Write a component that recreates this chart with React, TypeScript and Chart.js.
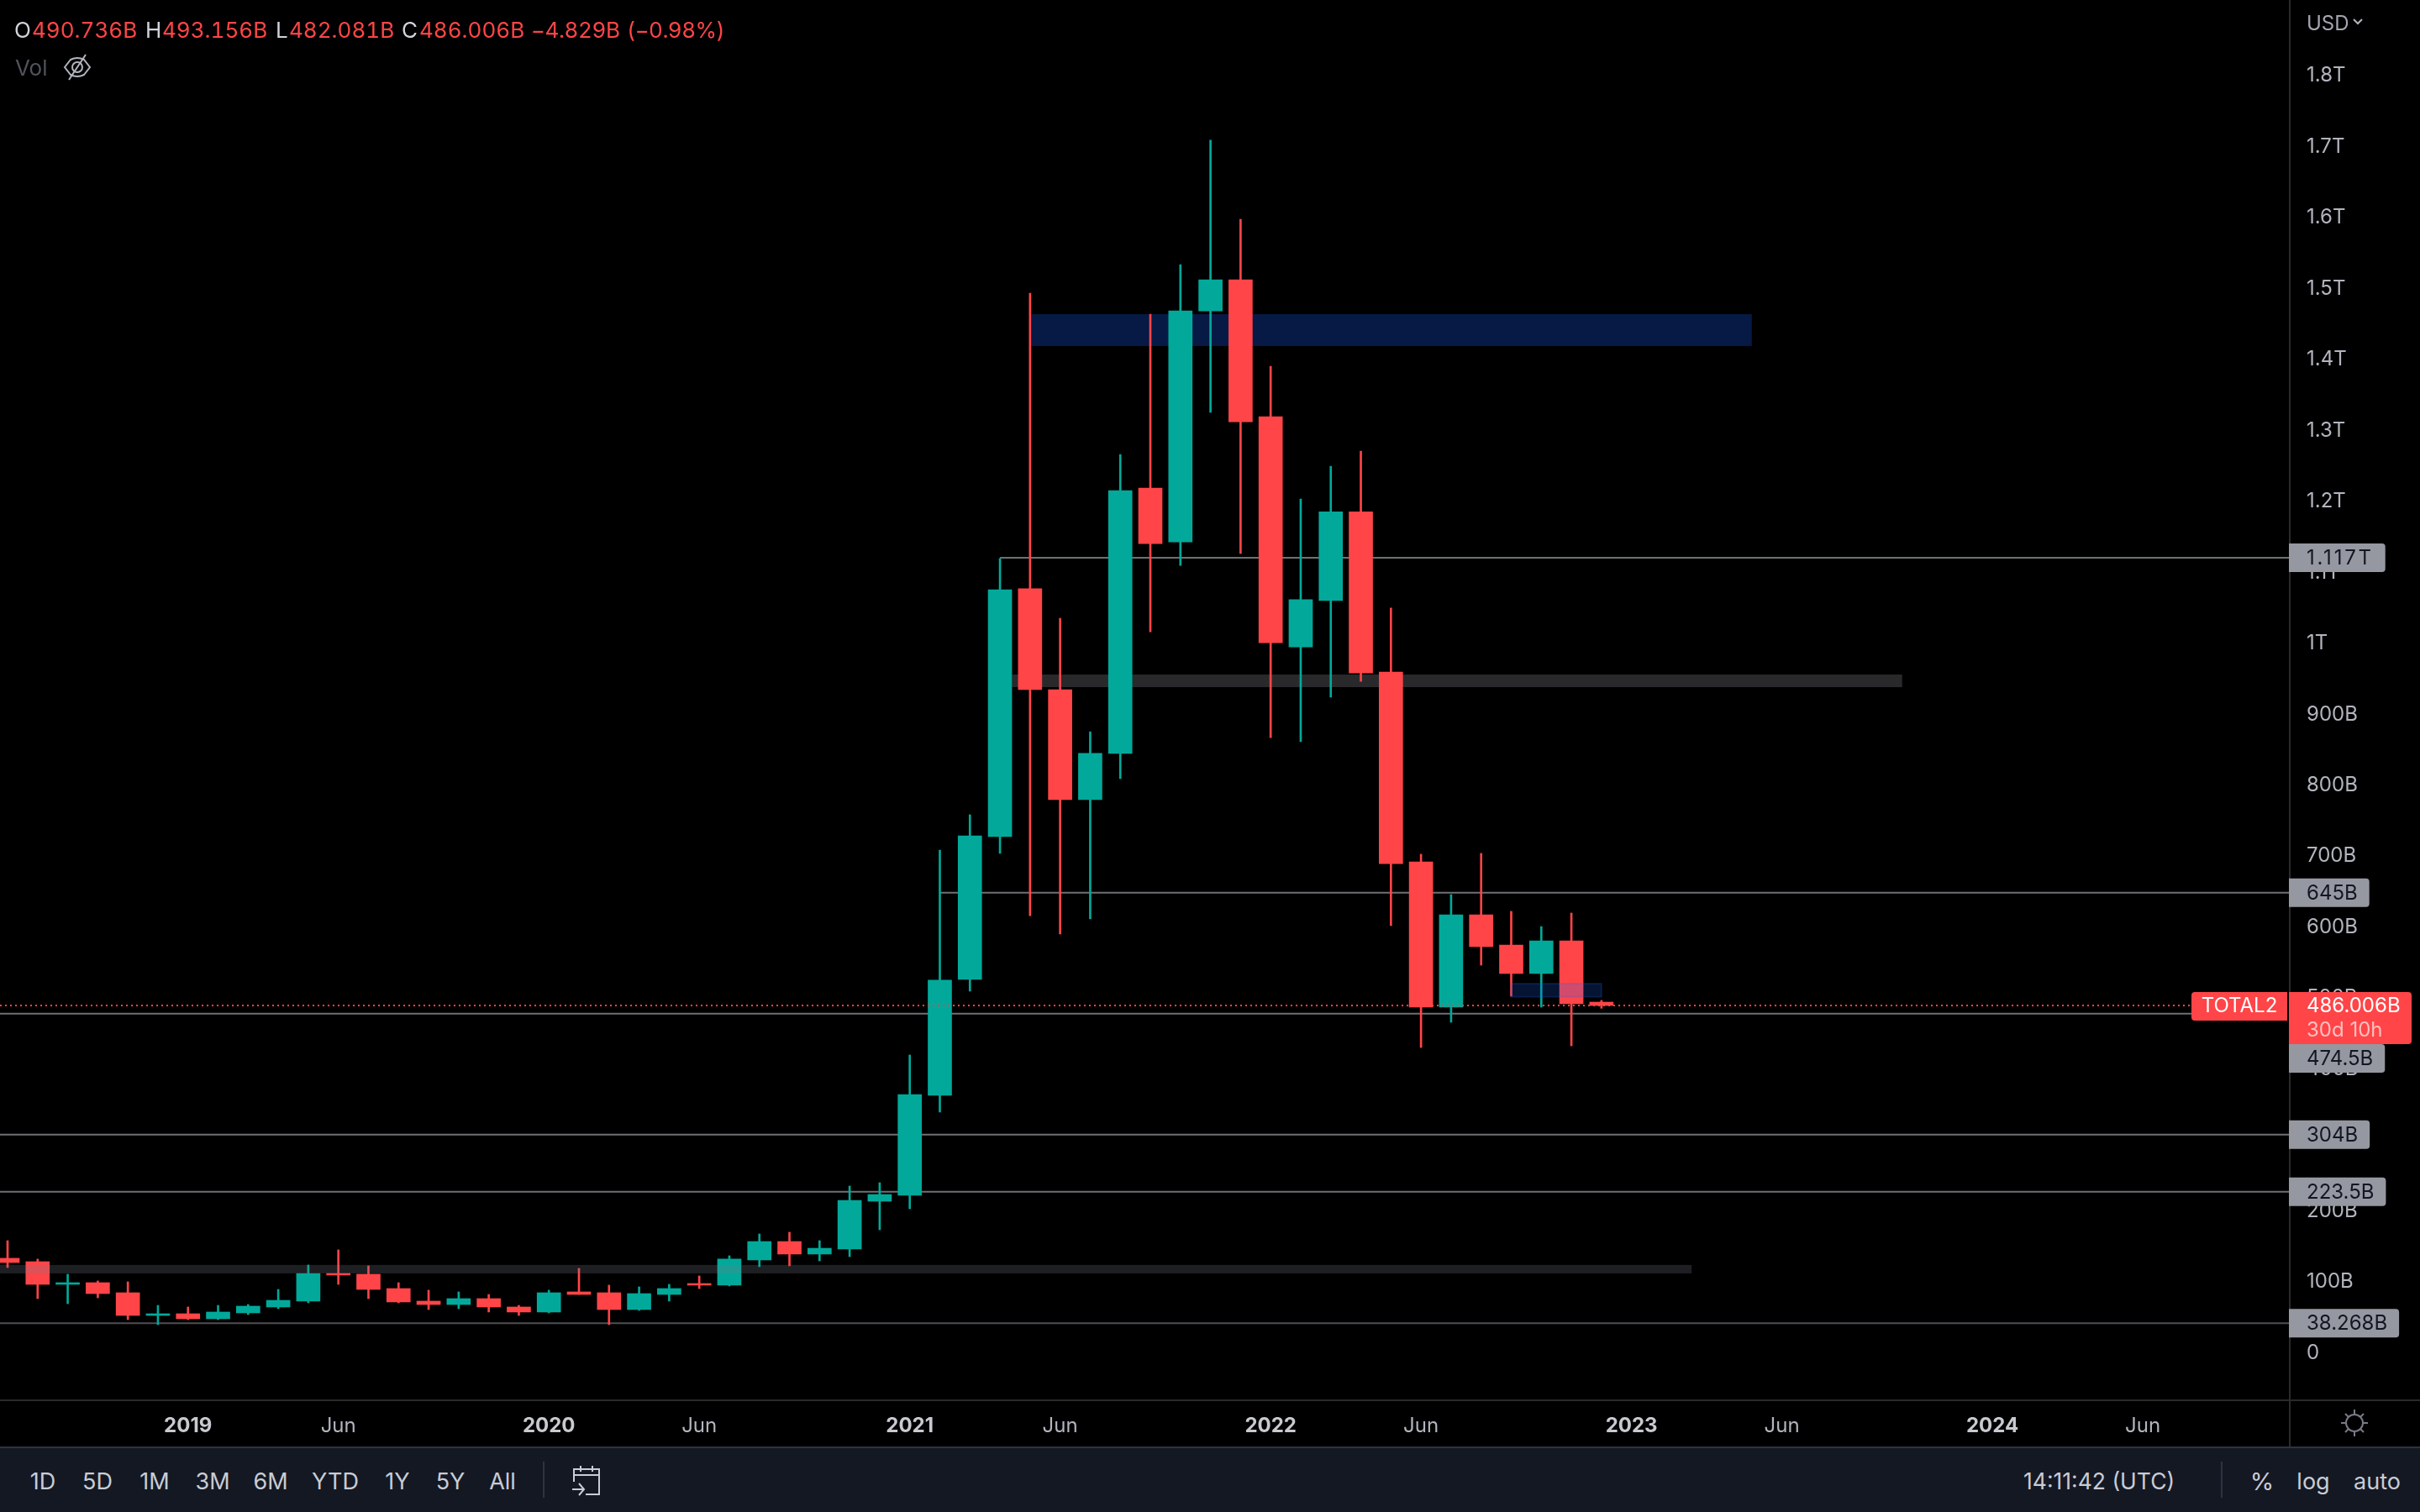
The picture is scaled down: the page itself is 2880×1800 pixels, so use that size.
import React, { useEffect, useRef } from "react";
import { Chart, registerables } from "chart.js";

Chart.register(...registerables);

// Monthly candles, Jul 2018 .. Dec 2022, values in billions of USD
const opens = [129.7,124.9,92.9,95.3,81.1,49.1,51.5,44.4,52.7,61,69.3,108.3,107.2,87,69.3,64.5,72.8,61,53.9,82.3,81.1,57.4,78.7,94.1,91.8,127.3,153.3,135.6,142.6,210.1,218.4,359.3,522.9,724,1073.4,931.2,776.2,841.4,1215.4,1139.3,1465,1509,1316,991.4,1056.7,1181.9,956,688.5,483.7,613.9,571.3,531,577.2,490.736];
const highs = [154.5,128.5,107.2,97.7,96.5,63.3,61,63.3,64.5,85.8,120.2,141.5,119,95.3,84.7,82.3,78.7,63.3,84.7,115.4,91.8,89.4,92.9,104.8,133.2,164,166.4,154.5,231.5,236.2,416.2,705,754.9,1116,1490,1031.8,871.8,1262.5,1460.5,1530.3,1705.7,1594.2,1387.1,1200,1246.2,1267.5,1046.3,699.2,642.3,700.4,618.7,597.3,616.3,493.156];
const lows = [116.6,72.8,65.7,74,43.2,36.1,43.2,43.2,50.3,58.6,66.9,92.9,72.8,66.9,57.4,58.6,53.9,49.1,52.7,78.7,36.1,56.2,69.3,87,90.6,117.8,119,126,132,169.9,199.5,335.6,506.2,700.5,612.6,586.8,608.1,805.7,1012.7,1106.2,1321.9,1123,863.6,857.8,920.7,942.9,598.6,426.8,462.4,542.9,499.1,483.7,429.2,482.081];
const closes = [123.7,92.9,95.3,79.9,49.1,51.5,44.4,53.9,62.2,70.4,108.3,106,85.8,68.1,64.5,72.8,61,53.9,81.1,78.7,57.4,79.9,87,91.8,128.5,153.3,135.6,143.8,211.3,219.6,360.5,521.6,725,1072,931.2,776.2,841.4,1211.8,1137,1465,1509,1308.7,997.3,1058,1181.9,954.7,686,483.7,613.9,568.9,531,577.2,488.4,486.006];

const yTickValues = [0,100,200,300,400,500,600,700,800,900,1000,1100,1200,1300,1400,1500,1600,1700,1800];
const yTickLabels = ["0","100B","200B","300B","400B","500B","600B","700B","800B","900B","1T","1.1T","1.2T","1.3T","1.4T","1.5T","1.6T","1.7T","1.8T"];
const xTickValues = [6,11,18,23,30,35,42,47,54,59,66,71];
const xTickLabels = ["2019","Jun","2020","Jun","2021","Jun","2022","Jun","2023","Jun","2024","Jun"];

const levelValues = [1117,645,474.5,304,223.5,38.268];
const levelLabels = ["1.117T","645B","474.5B","304B","223.5B","38.268B"];
const levelStarts = [33,31,null,null,null,null];

// Price zones: [first candle, last candle, top, bottom]
const zoneNavyHigh = [34,58,1460.5,1415.5];
const zoneGrayMid = [33.4,63,952.5,934.7];
const zoneGrayLow = [-1,56,120.3,108.4];
const zoneNavySmall = [50,53,516.8,498.2];

const lastPrice = 486.006;
const lastPriceLabel = "486.006B";
const countdownLabel = "30d 10h";
const symbolLabel = "TOTAL2";

const rangeButtons = ["1D","5D","1M","3M","6M","YTD","1Y","5Y","All"];
const rangeCenters = [51,116,184,253,322,399,473,536,598];

const UP = "#02a99a";
const DOWN = "#ff4548";
const FONT = "Inter, 'Noto Sans', sans-serif";
const X_MIN = -0.2515;
const X_MAX = 75.86;
const Y_MIN = -69.3;
const Y_MAX = 1903.3;
const AXIS_W = 156;
const BOTTOM_H = 134;

const rounded = (
  ctx: CanvasRenderingContext2D, x: number, y: number, w: number, h: number,
  left: number, right: number,
) => {
  ctx.beginPath();
  ctx.roundRect(x, y, w, h, [left, right, right, left]);
  ctx.fill();
};

const zonesBehind = {
  id: "zonesBehind",
  beforeDatasetsDraw(chart: any) {
    const { ctx, scales: { x, y }, chartArea: a } = chart;
    ctx.save();
    ctx.beginPath();
    ctx.rect(a.left, a.top, a.right - a.left, a.bottom - a.top);
    ctx.clip();
    const draw = (z: number[], c: string) => {
      ctx.fillStyle = c;
      const x0 = x.getPixelForValue(z[0]);
      const y0 = y.getPixelForValue(z[2]);
      ctx.fillRect(x0, y0, x.getPixelForValue(z[1]) - x0, y.getPixelForValue(z[3]) - y0);
    };
    draw(zoneNavyHigh, "#061a45");
    draw(zoneGrayMid, "#29292b");
    ctx.restore();
  },
};

const overlays = {
  id: "overlays",
  afterDatasetsDraw(chart: any) {
    const { ctx, scales: { x, y }, chartArea: a } = chart;
    ctx.save();
    ctx.beginPath();
    ctx.rect(a.left, a.top, a.right - a.left, a.bottom - a.top);
    ctx.clip();
    const box = (z: number[]) => {
      const x0 = x.getPixelForValue(z[0]);
      const y0 = y.getPixelForValue(z[2]);
      return [x0, y0, x.getPixelForValue(z[1]) - x0, y.getPixelForValue(z[3]) - y0];
    };
    ctx.fillStyle = "rgba(120,123,134,0.25)";
    const [lx, ly, lw, lh] = box(zoneGrayLow);
    ctx.fillRect(lx, ly, lw, lh);
    const [sx, sy, sw, sh] = box(zoneNavySmall);
    ctx.fillStyle = "rgba(26,100,255,0.2)";
    ctx.fillRect(sx, sy, sw, sh);
    ctx.strokeStyle = "rgba(26,100,255,0.2)";
    ctx.lineWidth = 2;
    ctx.strokeRect(sx, sy, sw, sh);
    ctx.restore();
  },
  afterDraw(chart: any) {
    const { ctx, scales: { y }, chartArea: a, width } = chart;
    ctx.save();
    // frame
    ctx.fillStyle = "#2a2a2d";
    ctx.fillRect(a.right, 0, 2, 1722);
    ctx.fillRect(0, a.bottom, width, 2);

    ctx.font = `24px ${FONT}`;
    ctx.textBaseline = "middle";
    ctx.textAlign = "left";
    const textX = a.right + 21;

    const lastY = y.getPixelForValue(lastPrice);
    const lastTop = lastY - 16;
    const lastBottom = lastTop + 62;

    levelValues.forEach((v, i) => {
      let cy = y.getPixelForValue(v);
      if (cy + 17 > lastTop && cy - 17 < lastBottom) cy = lastBottom + 17;
      const label = levelLabels[i];
      // the digit 1 takes the same advance as the other digits in the reference
      const plain = ctx.measureText(label).width;
      const tabular = ctx.measureText(label.replace(/1/g, "0")).width;
      const w = 21 + tabular + 14;
      ctx.fillStyle = "#9598a1";
      rounded(ctx, a.right, cy - 17, w, 34, 0, 4);
      ctx.fillStyle = "#131722";
      (ctx as any).letterSpacing = `${(tabular - plain) / label.length}px`;
      ctx.fillText(label, textX, cy + 1);
      (ctx as any).letterSpacing = "0px";
    });

    // last price pill
    ctx.fillStyle = DOWN;
    rounded(ctx, a.right, lastTop, 146, 62, 0, 4);
    ctx.fillStyle = "#ffffff";
    ctx.fillText(lastPriceLabel, textX, lastY + 1);
    ctx.fillStyle = "rgba(255,255,255,0.65)";
    ctx.fillText(countdownLabel, textX, lastY + 30);

    // symbol pill
    ctx.fillStyle = "#000000";
    ctx.fillRect(a.right - 2, lastTop, 2, 34);
    ctx.fillStyle = DOWN;
    rounded(ctx, a.right - 116, lastTop, 114, 34, 4, 0);
    ctx.fillStyle = "#ffffff";
    ctx.textAlign = "center";
    ctx.fillText(symbolLabel, a.right - 59, lastY + 1);
    ctx.restore();
  },
};

const Txt = ({ x, y, color = "#c8ccd6", size = 27, align = "left", tab = false, spacing = 0, children }: any) => (
  <span
    style={{
      position: "absolute",
      left: x,
      top: y,
      transform: `translate(${align === "center" ? "-50%" : "0"}, -50%)`,
      color,
      fontFamily: FONT,
      fontSize: size,
      lineHeight: 1,
      whiteSpace: "pre",
      letterSpacing: spacing,
      fontVariantNumeric: tab ? "tabular-nums" : "normal",
    }}
  >
    {children}
  </span>
);

const GRAY = "#d1d4dc";
const headerParts: [number, string, string, number][] = [
  [17, "O", GRAY, 0], [38, "490.736B", DOWN, 0],
  [173, "H", GRAY, 0], [193, "493.156B", DOWN, 0],
  [328, "L", GRAY, 0], [344, "482.081B", DOWN, 0],
  [478, "C", GRAY, 0], [499, "486.006B", DOWN, 0],
  [632, "−4.829B", DOWN, -0.4], [746, "(−0.98%)", DOWN, -0.5],
];

export default function App() {
  const ref = useRef<HTMLCanvasElement>(null);
  useEffect(() => {
    const idx = opens.map((_, i) => i);
    const colors = idx.map((i) => (closes[i] >= opens[i] ? UP : DOWN));
    const levelSets = levelValues.map((v, i) => ({
      type: "line",
      order: 5,
      data: [{ x: levelStarts[i] ?? X_MIN, y: v }, { x: X_MAX, y: v }],
      borderColor: v < 100 ? "#4e4e53" : "#6e7074",
      borderWidth: 2,
      pointRadius: 0,
      fill: false,
    }));
    const chart = new Chart(ref.current!, {
      type: "bar",
      data: {
        datasets: [
          {
            order: 2,
            grouped: false,
            barThickness: 28,
            data: idx.map((i) => ({ x: i, y: [opens[i], closes[i]] })),
            backgroundColor: colors,
            borderWidth: 0,
          },
          {
            order: 3,
            grouped: false,
            barThickness: 2,
            data: idx.map((i) => ({ x: i, y: [lows[i], highs[i]] })),
            backgroundColor: colors,
            borderWidth: 0,
          },
          ...levelSets,
          {
            type: "line",
            order: 1,
            data: [{ x: X_MIN, y: lastPrice }, { x: X_MAX, y: lastPrice }],
            borderColor: DOWN,
            borderWidth: 2,
            borderDash: [2, 4],
            pointRadius: 0,
            fill: false,
          },
        ] as any,
      },
      options: {
        animation: false,
        responsive: false,
        devicePixelRatio: 1,
        layout: { padding: 0 },
        plugins: { legend: { display: false }, tooltip: { enabled: false } },
        scales: {
          x: {
            type: "linear",
            offset: false,
            min: X_MIN,
            max: X_MAX,
            grid: { display: false, drawTicks: false },
            border: { display: false },
            afterBuildTicks: (s: any) => {
              s.ticks = xTickValues.map((value) => ({ value }));
            },
            afterFit: (s: any) => {
              s.height = BOTTOM_H;
              s.paddingLeft = 0;
              s.paddingRight = 0;
            },
            ticks: {
              autoSkip: false,
              maxRotation: 0,
              padding: 17,
              color: (c: any) => (c.index % 2 === 0 ? "#c8cad0" : "#b2b5be"),
              font: (c: any) => ({ family: FONT, size: 24, weight: c.index % 2 === 0 ? "bold" : "normal" }),
              callback: (_: any, i: number) => xTickLabels[i],
            },
          },
          y: {
            type: "linear",
            position: "right",
            min: Y_MIN,
            max: Y_MAX,
            grid: { display: false, drawTicks: false },
            border: { display: false },
            afterBuildTicks: (s: any) => {
              s.ticks = yTickValues.map((value) => ({ value }));
            },
            afterFit: (s: any) => {
              s.width = AXIS_W;
              s.paddingTop = 0;
              s.paddingBottom = 0;
            },
            ticks: {
              autoSkip: false,
              padding: 21,
              labelOffset: 3,
              color: "#b2b5be",
              font: { family: FONT, size: 24 },
              callback: (_: any, i: number) => yTickLabels[i],
            },
          },
        },
      } as any,
      plugins: [zonesBehind, overlays],
    } as any);
    return () => chart.destroy();
  }, []);

  return (
    <div style={{ position: "absolute", left: 0, top: 0, width: 2880, height: 1800, background: "#000", overflow: "hidden" }}>
      <canvas ref={ref} width={2880} height={1800} style={{ display: "block", position: "absolute", left: 0, top: 0 }} />

      {headerParts.map(([x, t, c, s], i) => (
        <Txt key={i} x={x} y={36} color={c} size={26} tab spacing={s}>{t}</Txt>
      ))}
      <Txt x={18} y={81} color="#50535c" size={26}>Vol</Txt>
      <svg style={{ position: "absolute", left: 74, top: 62 }} width={36} height={36} viewBox="0 0 36 36" fill="none" stroke="#b2b5be" strokeWidth={2}>
        <path d="M3 18 L10 9 Q18 5 26 9 L33 18 L26 27 Q18 31 10 27 Z" />
        <circle cx={18} cy={18} r={6} />
        <path d="M28 3 L8 33" />
      </svg>

      <Txt x={2745} y={28} color="#a3a6af" size={24}>USD</Txt>
      <svg style={{ position: "absolute", left: 2800, top: 21 }} width={12} height={9} viewBox="0 0 12 9" fill="none" stroke="#b2b5be" strokeWidth={2}>
        <path d="M1 2 L6 7 L11 2" />
      </svg>

      <svg style={{ position: "absolute", left: 2784, top: 1676 }} width={36} height={36} viewBox="0 0 36 36" fill="none" stroke="#787b86" strokeWidth={2}>
        <circle cx={18} cy={18} r={10} />
        <path d="M18 2V8M18 28V34M2 18H8M28 18H34M7 7L11 11M29 7L25 11M7 29L11 25M29 29L25 25" />
      </svg>

      <div style={{ position: "absolute", left: 0, top: 1722, width: 2880, height: 78, background: "#141823", borderTop: "2px solid #2e3340", boxSizing: "border-box" }} />
      {rangeButtons.map((t, i) => (
        <Txt key={t} x={rangeCenters[i]} y={1763} align="center">{t}</Txt>
      ))}
      <div style={{ position: "absolute", left: 646, top: 1740, width: 2, height: 43, background: "#2e3340" }} />
      <svg style={{ position: "absolute", left: 680, top: 1744 }} width={36} height={38} viewBox="0 0 36 38" fill="none" stroke="#c8ccd6" strokeWidth={2}>
        <path d="M3 20V5H33V35H17M3 12H33M11 1V8M25 1V8" />
        <path d="M1 29H15M9 22L15 29L9 36" />
      </svg>
      <Txt x={2408} y={1763} size={26.5}>14:11:42 (UTC)</Txt>
      <div style={{ position: "absolute", left: 2643, top: 1740, width: 2, height: 43, background: "#2e3340" }} />
      <Txt x={2692} y={1763} align="center" size={29}>%</Txt>
      <Txt x={2753} y={1763} align="center">log</Txt>
      <Txt x={2829} y={1763} align="center">auto</Txt>
    </div>
  );
}
